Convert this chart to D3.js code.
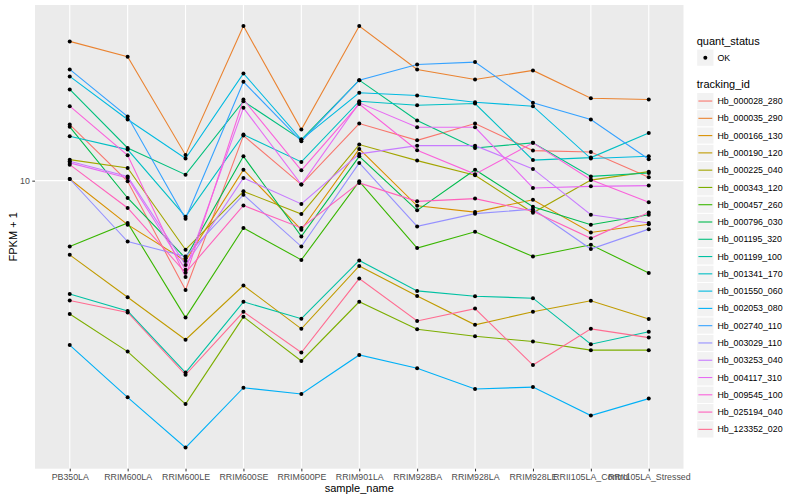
<!DOCTYPE html>
<html>
<head>
<meta charset="utf-8">
<script src="https://cdnjs.cloudflare.com/ajax/libs/d3/7.8.5/d3.min.js"></script>
<style>
	body { margin: 0; background: #ffffff; }
	text { font-family: "Liberation Sans", Arial, Helvetica, sans-serif; }
</style>
</head>
<body>
<svg id="canvas"></svg>
<script>
let sampleNames = ['PB350LA', 'RRIM600LA', 'RRIM600LE', 'RRIM600SE', 'RRIM600PE', 'RRIM901LA',
	'RRIM928BA', 'RRIM928LA', 'RRIM928LE', 'RRII105LA_Control', 'RRII105LA_Stressed']

let trackingIds = ['Hb_000028_280', 'Hb_000035_290', 'Hb_000166_130', 'Hb_000190_120', 'Hb_000225_040',
	'Hb_000343_120', 'Hb_000457_260', 'Hb_000796_030', 'Hb_001195_320', 'Hb_001199_100',
	'Hb_001341_170', 'Hb_001550_060', 'Hb_002053_080', 'Hb_002740_110', 'Hb_003029_110',
	'Hb_003253_040', 'Hb_004117_310', 'Hb_009545_100', 'Hb_025194_040', 'Hb_123352_020']

// FPKM + 1 per sample (same order as sampleNames)
let hb_000028_280 = [14.96, 9.95, 4.56, 13.82, 9.72, 15.07, 13.36, 15.07, 12.41, 12.28, 10.24]
let hb_000035_290 = [27.19, 24.35, 12.03, 30.35, 14.43, 30.35, 22.23, 20.68, 22.07, 18.08, 17.91]
let hb_000166_130 = [10.12, 7.29, 5.62, 10.82, 7.03, 12.56, 8.35, 7.98, 8.72, 6.89, 7.31]
let hb_000190_120 = [5.87, 4.33, 3.19, 4.71, 3.45, 5.42, 4.37, 3.55, 3.90, 4.22, 3.70]
let hb_000225_040 = [11.63, 10.96, 6.09, 9.26, 7.87, 12.96, 11.55, 10.40, 7.94, 10.04, 10.67]
let hb_000343_120 = [3.84, 2.93, 2.01, 3.76, 2.74, 4.19, 3.44, 3.27, 3.15, 2.96, 2.96]
let hb_000457_260 = [6.23, 7.38, 3.74, 7.12, 5.66, 9.95, 6.16, 6.93, 5.80, 6.31, 5.15]
let hb_000796_030 = [14.72, 8.83, 5.73, 11.91, 6.70, 11.91, 8.08, 10.82, 8.29, 7.29, 7.83]
let hb_001195_320 = [19.25, 12.65, 10.44, 17.69, 13.43, 20.58, 15.40, 12.65, 13.12, 10.31, 10.57]
let hb_001199_100 = [4.43, 3.92, 2.52, 4.19, 3.71, 5.64, 4.53, 4.36, 4.30, 3.09, 3.38]
let hb_001341_170 = [13.75, 12.50, 7.72, 13.92, 11.44, 17.69, 17.19, 17.40, 11.59, 11.80, 14.07]
let hb_001550_060 = [21.14, 15.51, 11.72, 21.60, 13.43, 18.80, 18.43, 17.57, 17.07, 11.72, 11.91]
let hb_002053_080 = [3.07, 2.11, 1.47, 2.26, 2.16, 2.86, 2.60, 2.24, 2.27, 1.85, 2.09]
let hb_002740_110 = [22.23, 15.85, 7.61, 20.34, 13.27, 20.58, 23.04, 23.43, 17.49, 15.51, 11.66]
let hb_003029_110 = [10.12, 6.46, 5.80, 9.04, 6.23, 11.36, 7.20, 7.89, 8.15, 6.12, 7.06]
let hb_003253_040 = [11.49, 10.31, 5.46, 10.20, 8.46, 12.12, 12.86, 12.86, 10.88, 7.83, 7.38]
let hb_004117_310 = [11.36, 10.20, 5.27, 16.87, 9.72, 17.49, 14.67, 14.67, 9.49, 9.60, 9.65]
let hb_009545_100 = [17.07, 12.00, 5.01, 17.91, 10.77, 17.34, 12.44, 10.48, 13.12, 10.07, 8.57]
let hb_025194_040 = [11.22, 8.22, 5.16, 8.37, 7.12, 9.84, 8.62, 8.79, 8.03, 6.61, 7.96]
let hb_123352_020 = [4.23, 3.88, 2.48, 3.90, 2.91, 4.95, 3.65, 3.99, 2.66, 3.45, 3.24]

let seriesValues = [hb_000028_280, hb_000035_290, hb_000166_130, hb_000190_120, hb_000225_040,
	hb_000343_120, hb_000457_260, hb_000796_030, hb_001195_320, hb_001199_100,
	hb_001341_170, hb_001550_060, hb_002053_080, hb_002740_110, hb_003029_110,
	hb_003253_040, hb_004117_310, hb_009545_100, hb_025194_040, hb_123352_020]

let quantStatus = ['OK']
let yTicks = [10]

// ggplot hue palette for 20 groups
let colors = ['#F8766D', '#EA8331', '#D89000', '#C09B00', '#A3A500', '#7CAE00', '#39B600', '#00BB4E',
	'#00BF7D', '#00C1A3', '#00BFC4', '#00BAE0', '#00B0F6', '#35A2FF', '#9590FF', '#C77CFF',
	'#E76BF3', '#FA62DB', '#FF62BC', '#FF6C91']

let width = 800
let height = 500
let panelLeft = 35
let panelRight = 683.5
let panelTop = 5
let panelBottom = 468.7

let svg = d3.select('#canvas')
	.attr('width', width)
	.attr('height', height)

let xScale
let yScale

let makeScales = () => {
	xScale = d3.scalePoint()
		.domain(sampleNames)
		.range([panelLeft, panelRight])
		.padding(0.6)

	let all = seriesValues.flat()
	let lo = Math.log10(d3.min(all))
	let hi = Math.log10(d3.max(all))
	let pad = (hi - lo) * 0.05
	yScale = d3.scaleLog()
		.domain([Math.pow(10, lo - pad), Math.pow(10, hi + pad)])
		.range([panelBottom, panelTop])
}

let drawPanel = () => {
	svg.append('rect')
		.attr('x', panelLeft)
		.attr('y', panelTop)
		.attr('width', panelRight - panelLeft)
		.attr('height', panelBottom - panelTop)
		.attr('fill', '#EBEBEB')

	svg.selectAll('.gridx')
		.data(sampleNames)
		.enter()
		.append('line')
		.attr('x1', (d) => xScale(d))
		.attr('x2', (d) => xScale(d))
		.attr('y1', panelTop)
		.attr('y2', panelBottom)
		.attr('stroke', '#ffffff')
		.attr('stroke-width', 1.1)

	svg.selectAll('.gridy')
		.data(yTicks)
		.enter()
		.append('line')
		.attr('x1', panelLeft)
		.attr('x2', panelRight)
		.attr('y1', (d) => yScale(d))
		.attr('y2', (d) => yScale(d))
		.attr('stroke', '#ffffff')
		.attr('stroke-width', 1.1)
}

let drawLines = () => {
	let line = d3.line()
		.x((d, i) => xScale(sampleNames[i]))
		.y((d) => yScale(d))

	svg.selectAll('.series')
		.data(seriesValues)
		.enter()
		.append('path')
		.attr('d', (d) => line(d))
		.attr('fill', 'none')
		.attr('stroke', (d, i) => colors[i])
		.attr('stroke-width', 1.1)

	let pts = []
	seriesValues.forEach((vals) => {
		vals.forEach((v, j) => pts.push({ s: sampleNames[j], v: v }))
	})

	svg.selectAll('.dot')
		.data(pts)
		.enter()
		.append('circle')
		.attr('cx', (d) => xScale(d.s))
		.attr('cy', (d) => yScale(d.v))
		.attr('r', 2)
		.attr('fill', '#000000')
}

let drawAxes = () => {
	let xAxis = d3.axisBottom(xScale).tickSize(2.7).tickPadding(2.5)
	let gx = svg.append('g')
		.attr('transform', `translate(0, ${panelBottom})`)
		.call(xAxis)
	gx.select('.domain').remove()
	gx.selectAll('line').attr('stroke', '#333333')
	gx.selectAll('text')
		.attr('fill', '#4D4D4D')
		.style('font-size', '8.8px')

	let yAxis = d3.axisLeft(yScale).tickValues(yTicks).tickFormat(d3.format('d')).tickSize(2.7).tickPadding(2.5)
	let gy = svg.append('g')
		.attr('transform', `translate(${panelLeft}, 0)`)
		.call(yAxis)
	gy.select('.domain').remove()
	gy.selectAll('line').attr('stroke', '#333333')
	gy.selectAll('text')
		.attr('fill', '#4D4D4D')
		.style('font-size', '8.8px')

	svg.append('text')
		.text('sample_name')
		.attr('x', (panelLeft + panelRight) / 2)
		.attr('y', 491.5)
		.attr('text-anchor', 'middle')
		.style('font-size', '11px')

	svg.append('text')
		.text('FPKM + 1')
		.attr('transform', `translate(16.5, ${(panelTop + panelBottom) / 2}) rotate(-90)`)
		.attr('text-anchor', 'middle')
		.style('font-size', '11px')
}

let drawLegend = () => {
	let lx = 696.7
	let keySize = 17.28

	svg.append('text')
		.text('quant_status')
		.attr('x', lx)
		.attr('y', 44.5)
		.style('font-size', '11px')

	let q = svg.selectAll('.qkey')
		.data(quantStatus)
		.enter()
		.append('g')
		.attr('transform', (d, i) => `translate(${lx}, ${49 + i * keySize})`)
	q.append('rect')
		.attr('width', keySize)
		.attr('height', keySize)
		.attr('fill', '#F2F2F2')
		.attr('stroke', '#ffffff')
	q.append('circle')
		.attr('cx', keySize / 2)
		.attr('cy', keySize / 2)
		.attr('r', 2)
		.attr('fill', '#000000')
	q.append('text')
		.text((d) => d)
		.attr('x', keySize + 3.5)
		.attr('y', keySize / 2)
		.attr('dy', '0.35em')
		.style('font-size', '8.8px')

	svg.append('text')
		.text('tracking_id')
		.attr('x', lx)
		.attr('y', 87.5)
		.style('font-size', '11px')

	let k = svg.selectAll('.tkey')
		.data(trackingIds)
		.enter()
		.append('g')
		.attr('transform', (d, i) => `translate(${lx}, ${92.4 + i * keySize})`)
	k.append('rect')
		.attr('width', keySize)
		.attr('height', keySize)
		.attr('fill', '#F2F2F2')
		.attr('stroke', '#ffffff')
	k.append('line')
		.attr('x1', 1.7)
		.attr('x2', keySize - 1.7)
		.attr('y1', keySize / 2)
		.attr('y2', keySize / 2)
		.attr('stroke', (d, i) => colors[i])
		.attr('stroke-width', 1.1)
	k.append('text')
		.text((d) => d)
		.attr('x', keySize + 3.5)
		.attr('y', keySize / 2)
		.attr('dy', '0.35em')
		.style('font-size', '8.8px')
}

makeScales()
drawPanel()
drawLines()
drawAxes()
drawLegend()
</script>
</body>
</html>
